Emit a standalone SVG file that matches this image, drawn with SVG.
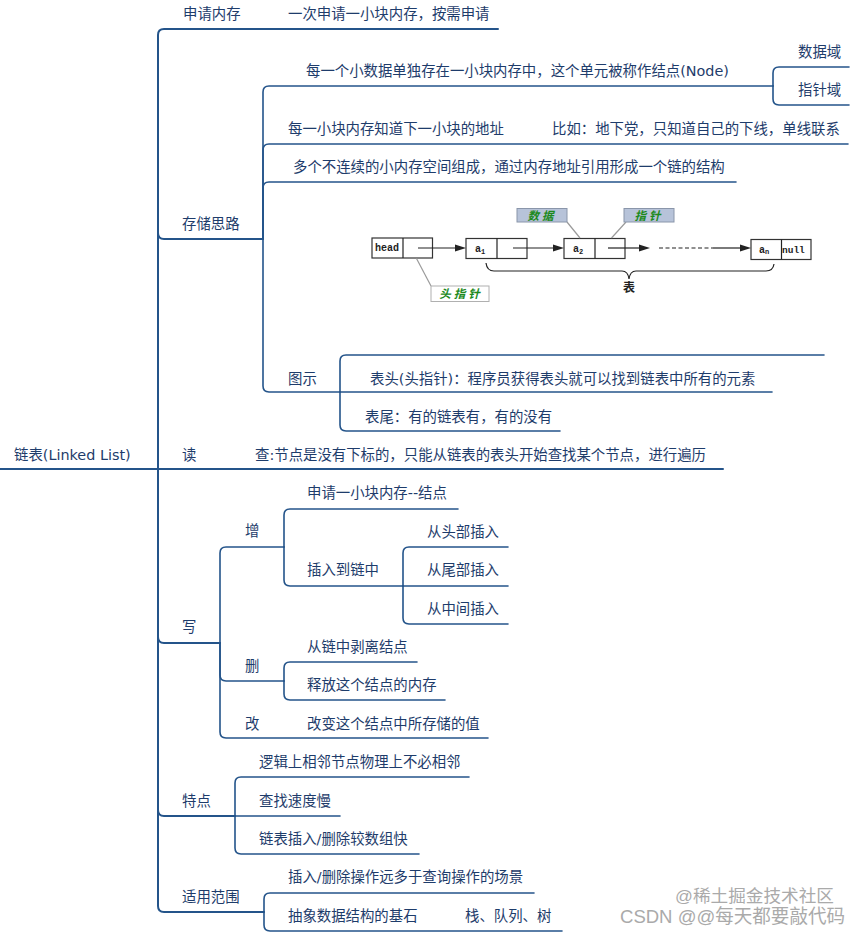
<svg xmlns="http://www.w3.org/2000/svg" width="860" height="934" viewBox="0 0 860 934">
<style>
.t{font-family:"DejaVu Sans","Noto Sans CJK SC",sans-serif;font-size:14.4px;fill:#1e3c6b}
.c{fill:none;stroke:#24548a;stroke-width:1.6;stroke-linecap:round}
.trunk{stroke-width:2}
.bx{fill:#fff;stroke:#333;stroke-width:1.2}
.mono{font-family:"Liberation Mono",monospace;font-weight:bold;fill:#222}
.tag{fill:#b7c3d9;stroke:#8a96aa;stroke-width:1}
.gt{font-family:"Noto Sans CJK SC",sans-serif;font-weight:bold;font-style:italic;font-size:11.5px;fill:#1d8a1d}
.gl{stroke:#9a9a9a;stroke-width:1.2;fill:none}
.ar{stroke:#222;stroke-width:1.2;fill:none}
.ah{fill:#222}
.wm{font-family:"Liberation Sans","Noto Sans CJK SC",sans-serif;fill:#aaaaaa}
</style>
<g id="connectors">
<path class="c trunk" d="M0,469 H723"/>
<path class="c trunk" d="M158,469 V35 Q158,29 164,29 H498"/>
<path class="c trunk" d="M158,469 V233 Q158,239 164,239 H263"/>
<path class="c trunk" d="M158,469 V637 Q158,643 164,643 H220"/>
<path class="c trunk" d="M158,469 V810 Q158,816 164,816 H235"/>
<path class="c trunk" d="M158,469 V906 Q158,912 164,912 H264"/>
<path class="c" d="M263,239 V92 Q263,86 269,86 H773"/>
<path class="c" d="M263,239 V150 Q263,144 269,144 H848"/>
<path class="c" d="M263,239 V188 Q263,182 269,182 H736"/>
<path class="c" d="M263,239 V386 Q263,392 269,392 H340"/>
<path class="c" d="M773,86 V73 Q773,67 779,67 H849"/>
<path class="c" d="M773,86 V99 Q773,105 779,105 H849"/>
<path class="c" d="M340,392 V361 Q340,355 346,355 H824"/>
<path class="c" d="M340,392 H772"/>
<path class="c" d="M340,392 V425 Q340,431 346,431 H560"/>
<path class="c" d="M220,643 V553 Q220,547 226,547 H284"/>
<path class="c" d="M220,643 V675 Q220,681 226,681 H284"/>
<path class="c" d="M220,643 V732 Q220,738 226,738 H488"/>
<path class="c" d="M284,547 V515 Q284,509 290,509 H458"/>
<path class="c" d="M284,547 V580 Q284,586 290,586 H403"/>
<path class="c" d="M403,586 V553 Q403,547 409,547 H508"/>
<path class="c" d="M403,586 H508"/>
<path class="c" d="M403,586 V618 Q403,624 409,624 H508"/>
<path class="c" d="M284,681 V668 Q284,662 290,662 H417"/>
<path class="c" d="M284,681 V694 Q284,700 290,700 H445"/>
<path class="c" d="M235,816 V783 Q235,777 241,777 H469"/>
<path class="c" d="M235,816 H340"/>
<path class="c" d="M235,816 V848 Q235,854 241,854 H419"/>
<path class="c" d="M264,912 V899 Q264,893 270,893 H534"/>
<path class="c" d="M264,912 V925 Q264,931 270,931 H562"/>
</g>
<g id="root"><text class="t" x="14" y="460">链表(Linked List)</text></g>
<g id="n-shenqing"><text class="t" x="183" y="19">申请内存</text></g>
<g id="n-shenqing-1"><text class="t" x="288" y="19">一次申请一小块内存，按需申请</text></g>
<g id="n-cunchu"><text class="t" x="182" y="229">存储思路</text></g>
<g id="n-cunchu-1"><text class="t" x="306" y="76">每一个小数据单独存在一小块内存中，这个单元被称作结点(Node)</text></g>
<g id="n-shujuyu"><text class="t" x="798" y="57">数据域</text></g>
<g id="n-zhizhenyu"><text class="t" x="798" y="95">指针域</text></g>
<g id="n-cunchu-2"><text class="t" x="288" y="134">每一小块内存知道下一小块的地址</text></g>
<g id="n-cunchu-2b"><text class="t" x="552" y="134">比如：地下党，只知道自己的下线，单线联系</text></g>
<g id="n-cunchu-3"><text class="t" x="293" y="172">多个不连续的小内存空间组成，通过内存地址引用形成一个链的结构</text></g>
<g id="n-tushi"><text class="t" x="288" y="384">图示</text></g>
<g id="n-tushi-img">
<rect class="bx" x="372" y="238" width="60.5" height="20"/>
<line class="ar" x1="403" y1="238" x2="403" y2="258"/>
<text class="mono" x="375" y="251" font-size="10">head</text>
<rect class="bx" x="466" y="238.5" width="61" height="20"/>
<line class="ar" x1="497" y1="238.5" x2="497" y2="258.5"/>
<text class="mono" x="475" y="252" font-size="10">a<tspan font-size="7" dy="2">1</tspan></text>
<rect class="bx" x="564" y="238.5" width="61" height="20"/>
<line class="ar" x1="595" y1="238.5" x2="595" y2="258.5"/>
<text class="mono" x="573" y="252" font-size="10">a<tspan font-size="7" dy="2">2</tspan></text>
<rect class="bx" x="751" y="239.5" width="60" height="20"/>
<line class="ar" x1="781.5" y1="239.5" x2="781.5" y2="259.5"/>
<text class="mono" x="759" y="253" font-size="10">a<tspan font-size="7" dy="1">n</tspan></text>
<text class="mono" x="782" y="253" font-size="9.5">null</text>
<line class="ar" x1="418" y1="248" x2="456" y2="248"/>
<polygon class="ah" points="455,244.5 466,248 455,251.5"/>
<line class="ar" x1="513" y1="248" x2="554" y2="248"/>
<polygon class="ah" points="553,244.5 564,248 553,251.5"/>
<line class="ar" x1="608" y1="248" x2="640" y2="248"/>
<polygon class="ah" points="639,244.5 650,248 639,251.5"/>
<line class="ar" x1="659" y1="248" x2="713" y2="248" stroke-dasharray="4,2.5"/>
<line class="ar" x1="713" y1="248" x2="741" y2="248"/>
<polygon class="ah" points="740,244.5 751,248 740,251.5"/>
<path class="ar" d="M486,263 Q487,271 494,271 H622 Q628,271 629,279 Q630,271 636,271 H766 Q773,271 774,264"/>
<text x="629" y="292" text-anchor="middle" font-family="Noto Sans CJK SC,sans-serif" font-weight="bold" font-size="12" fill="#222">表</text>
<line class="gl" x1="567" y1="222" x2="580" y2="238"/>
<line class="gl" x1="626" y1="222" x2="611.5" y2="238"/>
<line class="gl" x1="416.5" y1="258.5" x2="431" y2="286"/>
<rect class="tag" x="517" y="208.5" width="50" height="13.5"/>
<text class="gt" x="542" y="219.5" text-anchor="middle" letter-spacing="3">数据</text>
<rect class="tag" x="624" y="208.5" width="50" height="13.5"/>
<text class="gt" x="649" y="219.5" text-anchor="middle" letter-spacing="3">指针</text>
<rect x="431" y="286" width="58" height="15.5" fill="#fff" stroke="#b0b0b0" stroke-width="1"/>
<text class="gt" x="461" y="298" text-anchor="middle" letter-spacing="3">头指针</text>
</g>
<g id="n-biaotou"><text class="t" x="370" y="384">表头(头指针)：程序员获得表头就可以找到链表中所有的元素</text></g>
<g id="n-biaowei"><text class="t" x="365" y="422">表尾：有的链表有，有的没有</text></g>
<g id="n-du"><text class="t" x="182" y="460">读</text></g>
<g id="n-du-1"><text class="t" x="255" y="460">查:节点是没有下标的，只能从链表的表头开始查找某个节点，进行遍历</text></g>
<g id="n-xie"><text class="t" x="182" y="632">写</text></g>
<g id="n-zeng"><text class="t" x="245" y="536">增</text></g>
<g id="n-zeng-1"><text class="t" x="307" y="498">申请一小块内存--结点</text></g>
<g id="n-zeng-2"><text class="t" x="307" y="575">插入到链中</text></g>
<g id="n-ins-1"><text class="t" x="427" y="537">从头部插入</text></g>
<g id="n-ins-2"><text class="t" x="427" y="575">从尾部插入</text></g>
<g id="n-ins-3"><text class="t" x="427" y="614">从中间插入</text></g>
<g id="n-shan"><text class="t" x="245" y="671">删</text></g>
<g id="n-shan-1"><text class="t" x="307" y="652">从链中剥离结点</text></g>
<g id="n-shan-2"><text class="t" x="307" y="690">释放这个结点的内存</text></g>
<g id="n-gai"><text class="t" x="245" y="729">改</text></g>
<g id="n-gai-1"><text class="t" x="307" y="729">改变这个结点中所存储的值</text></g>
<g id="n-tedian"><text class="t" x="182" y="806">特点</text></g>
<g id="n-tedian-1"><text class="t" x="259" y="767">逻辑上相邻节点物理上不必相邻</text></g>
<g id="n-tedian-2"><text class="t" x="259" y="806">查找速度慢</text></g>
<g id="n-tedian-3"><text class="t" x="259" y="844">链表插入/删除较数组快</text></g>
<g id="n-shiyong"><text class="t" x="182" y="902">适用范围</text></g>
<g id="n-shiyong-1"><text class="t" x="288" y="882">插入/删除操作远多于查询操作的场景</text></g>
<g id="n-shiyong-2"><text class="t" x="288" y="921">抽象数据结构的基石</text></g>
<g id="n-shiyong-2a"><text class="t" x="465" y="921">栈、队列、树</text></g>
<g id="watermark">
<text class="wm" x="675" y="902" font-size="17" textLength="159" lengthAdjust="spacingAndGlyphs">@稀土掘金技术社区</text>
<text class="wm" x="620" y="923" font-size="19" textLength="225" lengthAdjust="spacingAndGlyphs">CSDN @@每天都要敲代码</text>
</g>
</svg>
